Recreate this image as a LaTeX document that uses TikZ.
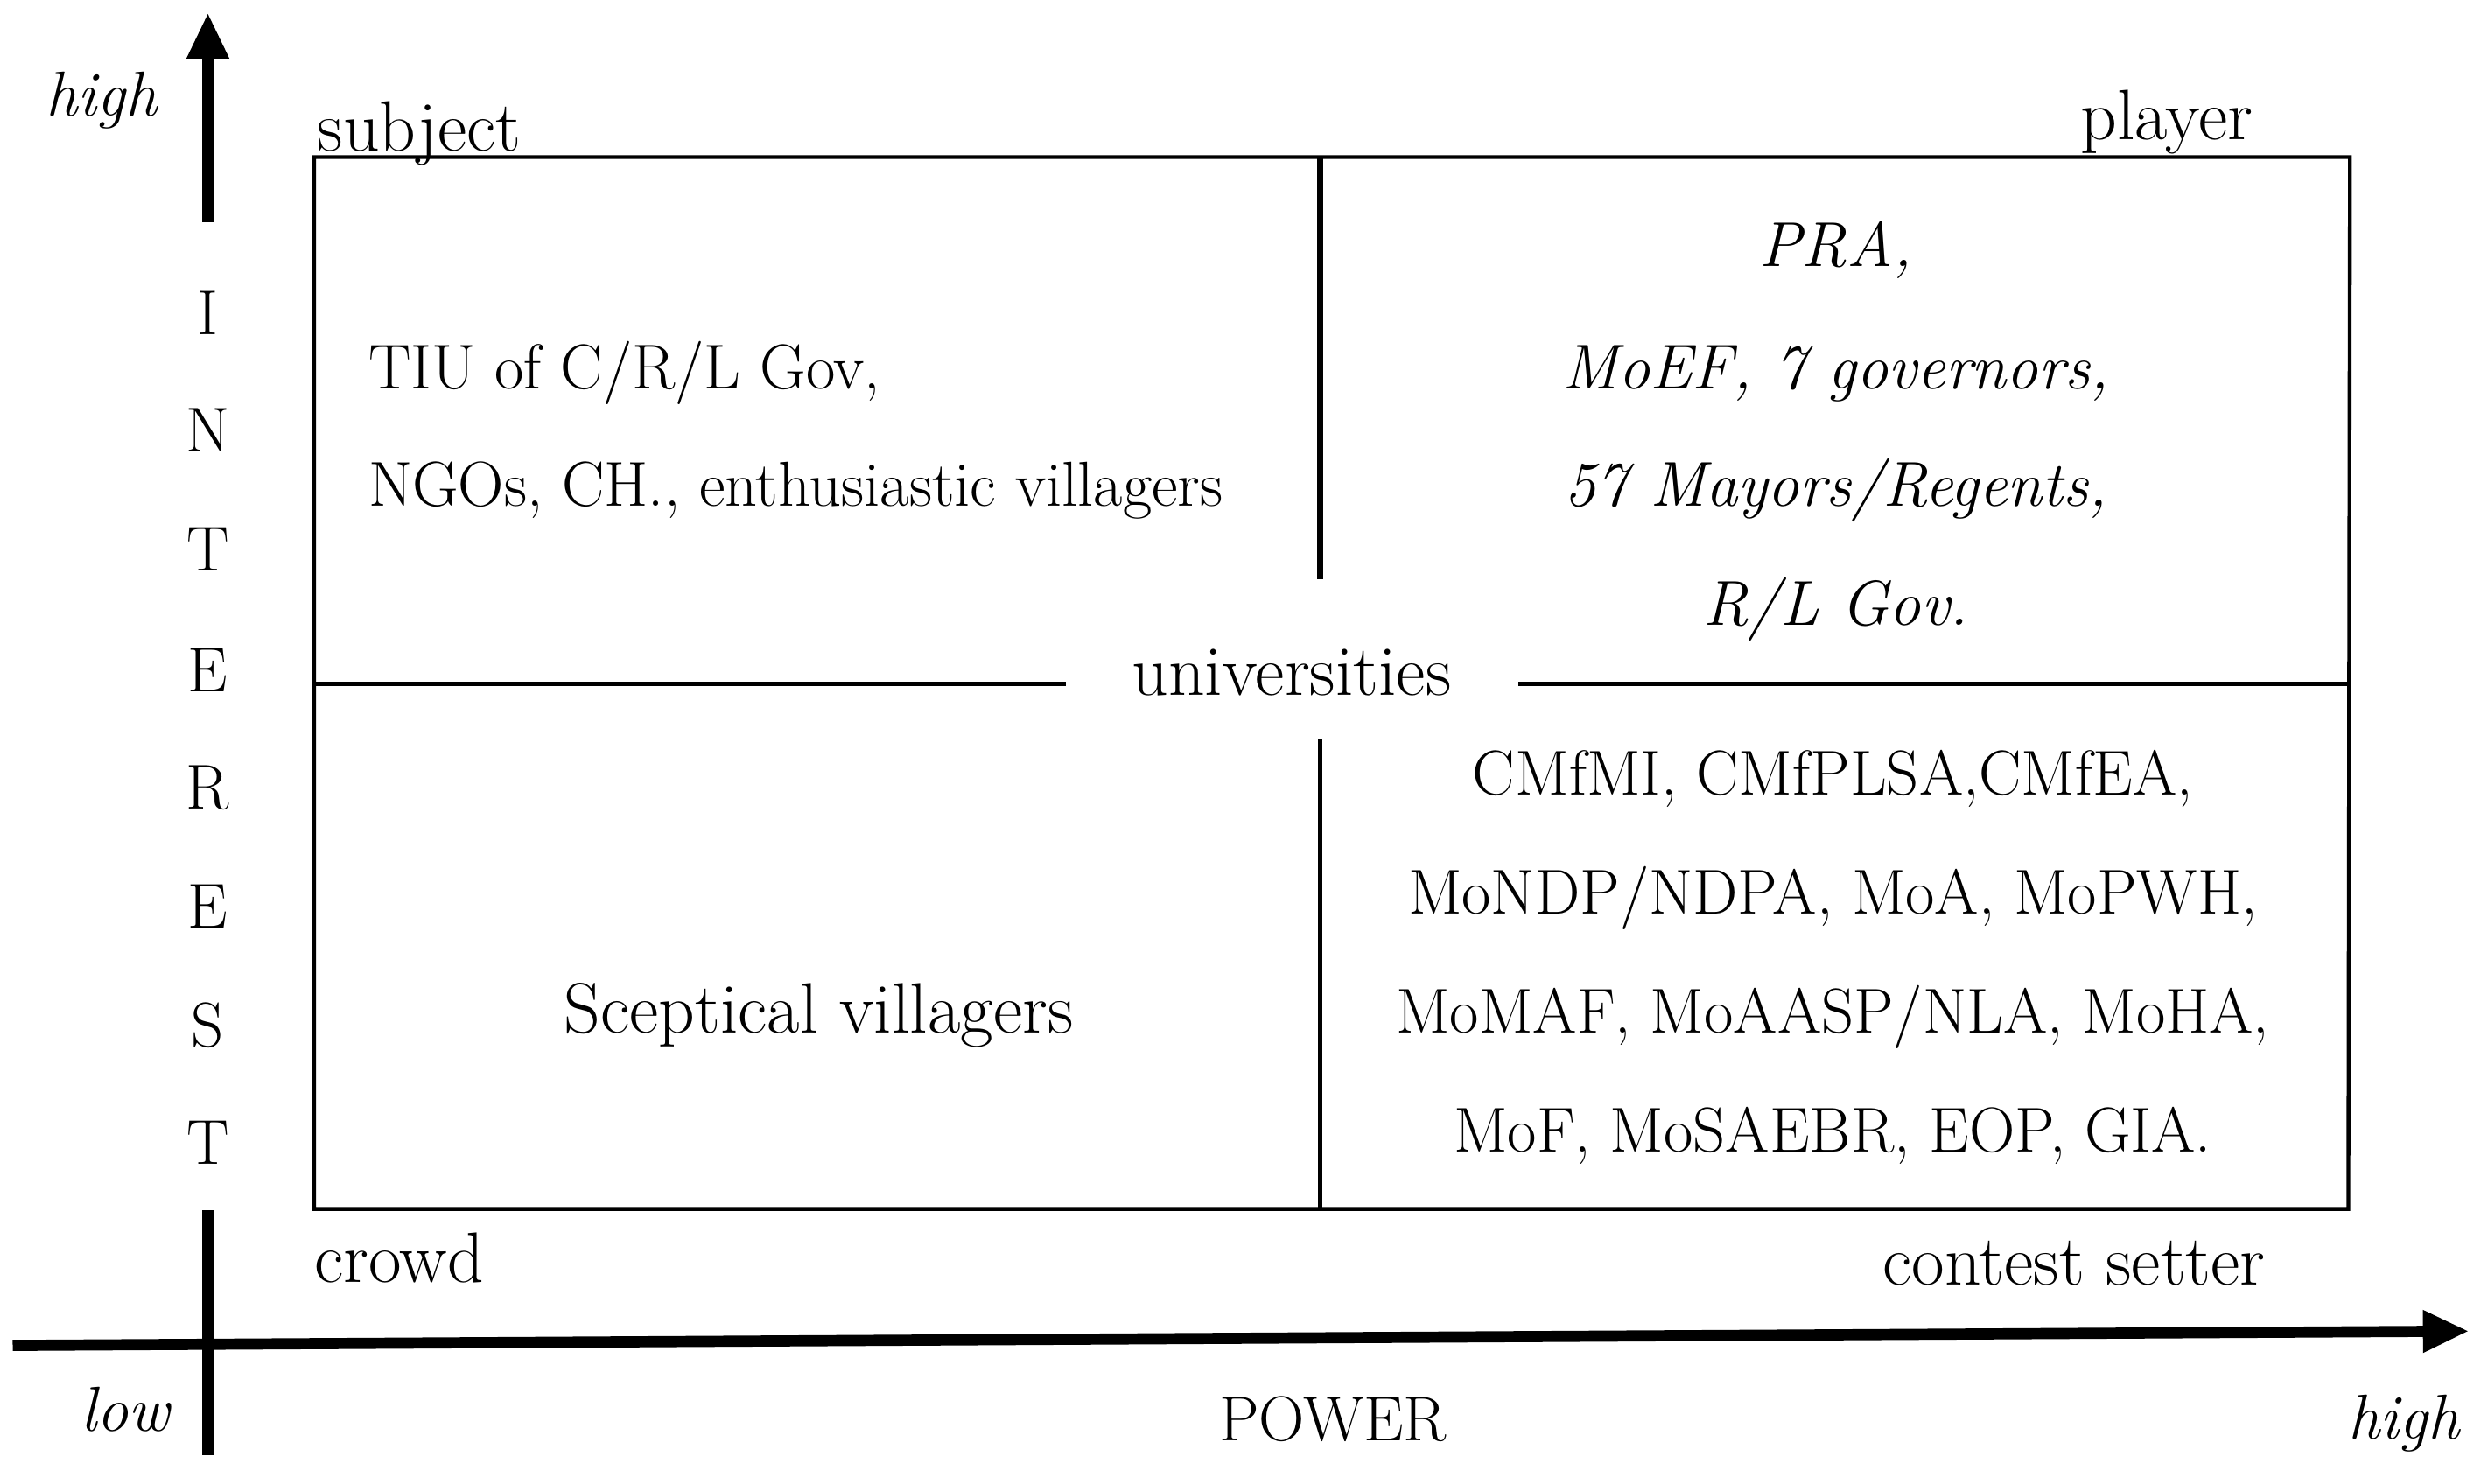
\documentclass[tikz,border=0pt]{standalone}
\usetikzlibrary{arrows.meta}
\begin{document}
\begin{tikzpicture}[x=1pt,y=-1pt,
  txt/.style={font=\fontsize{40}{46}\selectfont, inner sep=0pt, anchor=base},
  lc/.style={txt, font=\fontsize{45}{52}\selectfont},
  itxt/.style={txt, font=\fontsize{40}{46}\selectfont\itshape},
  axis/.style={line width=7pt},
  frame/.style={line width=2.4pt},
  axarrow/.style={-{Triangle[length=29pt,width=25pt]}}]
\useasboundingbox (0,0) rectangle (1568,935);
% box corners
\coordinate (tl) at (198,99);
\coordinate (tr) at (1481,99);
\coordinate (bl) at (198,762);
\coordinate (br) at (1480,762);
\coordinate (mt) at (832,99);
\coordinate (mu) at (832,365);
\coordinate (ml) at (832,466);
\coordinate (mb) at (832,762);
\coordinate (hl) at (198,431);
\coordinate (hlm) at (672,431);
\coordinate (hrm) at (957,431);
\coordinate (hr) at (1481,431);
% frame
\draw[frame] (tl) -- (tr) -- (br) -- (bl) -- cycle;
\draw[line width=3.5pt] (mt) -- (mu);
\draw[frame] (ml) -- (mb);
\draw[line width=3pt] (hl) -- (hlm);
\draw[line width=3pt] (hrm) -- (hr);
% axes
\coordinate (ybot) at (131,140);
\coordinate (ytop) at (131,8);
\coordinate (ylow1) at (131,763);
\coordinate (ylow2) at (131,917);
\coordinate (xleft) at (8,848);
\coordinate (xright) at (1556,839);
\draw[axis,axarrow] (ybot) -- (ytop);
\draw[axis] (ylow1) -- (ylow2);
\draw[axis,axarrow] (xleft) -- (xright);
% axis labels
\node[itxt] (yhigh) at (64,73) {high};
\node[itxt] (xlow) at (79,902) {low};
\node[itxt] (xhigh) at (1515,907) {high};
\node[txt] (power) at (840,908) {POWER};
\foreach \l/\yy [count=\i] in {I/211,N/285,T/360,E/436,R/510,E/585,S/660,T/734}
  \node[txt] (int\i) at (131,\yy) {\l};
% corner labels
\node[lc,anchor=base west] (subject) at (200,95) {subject};
\node[lc,anchor=base east] (player) at (1420,88) {player};
\node[lc,anchor=base west] (crowd) at (198,808) {crowd};
\node[lc,anchor=base east] (setter) at (1428,810) {contest setter};
% quadrant texts
\node[txt,anchor=base west] (tl1) at (232,245) {TIU of C/R/L Gov,};
\node[txt,anchor=base west] (tl2) at (232,319) {NGOs, CH., enthusiastic villagers};
\node[itxt] (tr1) at (1157,168) {PRA,};
\node[itxt] (tr2) at (1157,245) {MoEF, 7 governors,};
\node[itxt] (tr3) at (1157,319) {57 Mayors/Regents,};
\node[itxt] (tr4) at (1157,394) {R/L Gov.};
\node[lc] (univ) at (814,438) {universities};
\node[lc] (bl1) at (516,651) {Sceptical villagers};
\node[txt] (br1) at (1155,501) {CMfMI, CMfPLSA,CMfEA,};
\node[txt] (br2) at (1155,576) {MoNDP/NDPA, MoA, MoPWH,};
\node[txt] (br3) at (1155,651) {MoMAF, MoAASP/NLA, MoHA,};
\node[txt] (br4) at (1155,726) {MoF, MoSAEBR, EOP, GIA.};
\end{tikzpicture}
\end{document}
